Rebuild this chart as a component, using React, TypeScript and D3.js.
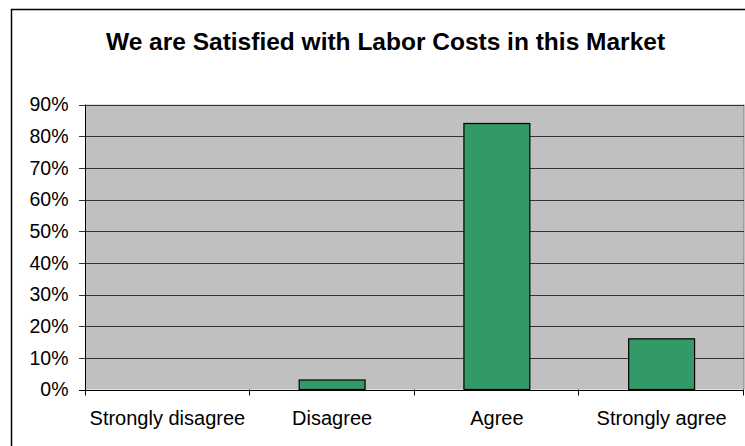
import React from "react";
import * as d3 from "d3";

const categories = ["Strongly disagree", "Disagree", "Agree", "Strongly agree"];
const values = [0, 3, 84, 16];
const yTicks = [0, 10, 20, 30, 40, 50, 60, 70, 80, 90];
const title = "We are Satisfied with Labor Costs in this Market";

const W = 745;
const H = 446;
const plot = { left: 85, right: 744, top: 104.5, bottom: 389.5 };

export default function App() {
  const x = d3
    .scaleBand<string>()
    .domain(categories)
    .range([plot.left, plot.right])
    .paddingInner(0.6)
    .paddingOuter(0.3);
  const xBound = d3.scaleLinear().domain([0, categories.length]).range([plot.left, plot.right]);
  const y = d3.scaleLinear().domain([0, 90]).range([plot.bottom, plot.top]);
  const font = "'Liberation Sans', Arial, sans-serif";

  return (
    <div style={{ position: "fixed", left: 0, top: 0 }}>
      <svg width={W} height={H} style={{ display: "block", background: "#fff" }}>
        <rect x={11.5} y={9.5} width={900} height={600} fill="#fff" stroke="#000" strokeWidth={1.5} />
        <text
          x={385.5}
          y={49.5}
          textAnchor="middle"
          fontFamily={font}
          fontWeight="bold"
          fontSize={24.5}
          fill="#000"
        >
          {title}
        </text>
        <rect
          x={plot.left}
          y={plot.top}
          width={plot.right - plot.left}
          height={plot.bottom - plot.top}
          fill="#C0C0C0"
        />
        <line x1={plot.right} x2={plot.right} y1={plot.top} y2={plot.bottom} stroke="#808080" strokeWidth={1} />
        {yTicks.map((t) => (
          <g key={t}>
            <line
              x1={plot.left - 6}
              x2={plot.right}
              y1={Math.round(y(t)) + 0.5}
              y2={Math.round(y(t)) + 0.5}
              stroke={t === 0 ? "#000" : "#333"}
              strokeWidth={1}
            />
            <text
              x={68.5}
              y={y(t)}
              dy="0.35em"
              textAnchor="end"
              fontFamily={font}
              fontSize={19.5}
              fill="#000"
            >
              {t}%
            </text>
          </g>
        ))}
        <line x1={plot.left + 0.5} x2={plot.left + 0.5} y1={plot.top} y2={plot.bottom + 6} stroke="#000" strokeWidth={1} />
        {d3.range(1, categories.length + 1).map((i) => (
          <line
            key={i}
            x1={Math.round(xBound(i)) - 0.5}
            x2={Math.round(xBound(i)) - 0.5}
            y1={plot.bottom}
            y2={plot.bottom + 6}
            stroke="#000"
            strokeWidth={1}
          />
        ))}
        {categories.map((c, i) =>
          values[i] > 0 ? (
            <rect
              key={c}
              x={x(c)}
              y={y(values[i])}
              width={x.bandwidth()}
              height={y(0) - y(values[i])}
              fill="#339966"
              stroke="#000"
              strokeWidth={1.2}
            />
          ) : null
        )}
        {categories.map((c) => (
          <text
            key={c}
            x={(x(c) as number) + x.bandwidth() / 2}
            y={425}
            textAnchor="middle"
            fontFamily={font}
            fontSize={20}
            fill="#000"
          >
            {c}
          </text>
        ))}
      </svg>
    </div>
  );
}
